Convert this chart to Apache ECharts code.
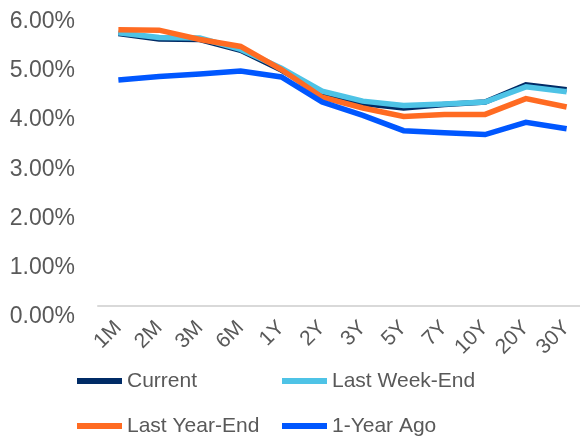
<!DOCTYPE html>
<html>
<head>
<meta charset="utf-8">
<script src="https://cdn.jsdelivr.net/npm/echarts@6/dist/echarts.min.js"></script>
<style>
  html, body { margin: 0; padding: 0; background: #fff; }
  #chart { width: 580px; height: 438px; }
</style>
</head>
<body>
<div id="chart"></div>
<script>
// Treasury yield curve tenors
const tenors = ['1M', '2M', '3M', '6M', '1Y', '2Y', '3Y', '5Y', '7Y', '10Y', '20Y', '30Y'];

// Yields in percent for each snapshot
const current      = [5.52, 5.41, 5.40, 5.18, 4.78, 4.31, 4.10, 4.01, 4.08, 4.13, 4.48, 4.38];
const lastWeekEnd  = [5.54, 5.44, 5.43, 5.20, 4.82, 4.35, 4.15, 4.06, 4.09, 4.13, 4.44, 4.34];
const lastYearEnd  = [5.60, 5.59, 5.40, 5.26, 4.79, 4.23, 4.01, 3.84, 3.88, 3.88, 4.20, 4.03];
const oneYearAgo   = [4.58, 4.65, 4.70, 4.76, 4.64, 4.13, 3.86, 3.55, 3.51, 3.47, 3.72, 3.59];

const seriesNames  = ['Current', 'Last Week-End', 'Last Year-End', '1-Year Ago'];
const seriesValues = [current, lastWeekEnd, lastYearEnd, oneYearAgo];
const seriesColors = ['#002b66', '#4ec3e6', '#ff6b22', '#0057ff'];

// Y axis range (percent)
const yMin = 0, yMax = 6, yStep = 1;

const font = '"Liberation Sans", Arial, sans-serif';
const chart = echarts.init(document.getElementById('chart'));

chart.setOption({
  animation: false,
  backgroundColor: '#ffffff',
  grid: { left: 98, top: 10, width: 489, height: 295.5, outerBoundsMode: 'none', containLabel: false },
  legend: {
    data: seriesNames,
    left: 77,
    top: 361,
    width: 420,
    padding: 0,
    orient: 'horizontal',
    icon: 'rect',
    itemWidth: 45,
    itemHeight: 6,
    itemGap: 5,
    textStyle: { color: '#595959', fontSize: 21, fontFamily: font, width: 150, lineHeight: 40 }
  },
  xAxis: {
    type: 'category',
    data: tenors,
    boundaryGap: true,
    axisLine: { show: true, lineStyle: { color: '#d9d9d9', width: 2 } },
    axisTick: { show: false },
    splitLine: { show: false },
    axisLabel: { rotate: 45, margin: 19, color: '#595959', fontSize: 21, fontFamily: font, interval: 0 }
  },
  yAxis: {
    type: 'value',
    min: yMin,
    max: yMax,
    interval: yStep,
    axisLine: { show: false },
    axisTick: { show: false },
    splitLine: { show: false },
    axisLabel: {
      margin: 23,
      color: '#595959',
      fontSize: 23,
      fontFamily: font,
      verticalAlign: 'top',
      formatter: v => v.toFixed(2) + '%'
    }
  },
  series: seriesNames.map((name, i) => ({
    name,
    type: 'line',
    data: seriesValues[i],
    symbol: 'none',
    smooth: false,
    color: seriesColors[i],
    lineStyle: { width: 5.5, color: seriesColors[i], join: 'miter' }
  }))
});
</script>
</body>
</html>
